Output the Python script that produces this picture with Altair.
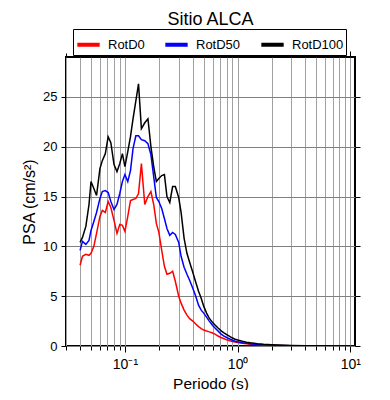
import altair as alt
import pandas as pd

periods = [0.040, 0.042, 0.045, 0.048, 0.050, 0.053, 0.056, 0.060, 0.063, 0.067,
           0.071, 0.075, 0.080, 0.085, 0.090, 0.095,
           0.100, 0.106, 0.112, 0.118, 0.125, 0.132, 0.140, 0.150, 0.160, 0.170,
           0.180, 0.190, 0.200, 0.212, 0.224, 0.236, 0.250, 0.265, 0.280, 0.300,
           0.315, 0.335, 0.355, 0.375, 0.400, 0.425, 0.450, 0.475, 0.500, 0.530,
           0.560, 0.600, 0.630, 0.670, 0.710, 0.750, 0.800, 0.850, 0.900, 0.950,
           1.0, 1.1, 1.2, 1.3, 1.5, 1.7, 2.0, 2.5, 3.0, 4.0, 5.0, 6.0, 7.5, 10.0]

rotd0 = [8.1, 9.0, 9.2, 9.1, 9.3, 10.0, 11.3, 13.0, 13.6, 13.4,
         14.5, 13.9, 12.6, 11.3, 12.2, 12.1,
         11.5, 13.0, 14.6, 14.7, 14.8, 15.3, 18.3, 14.2, 15.0, 15.5,
         14.2, 12.3, 11.4, 9.6, 8.0, 7.2, 7.3, 7.5, 6.5, 5.0,
         4.3, 3.6, 3.1, 2.75, 2.5, 2.2, 1.95, 1.75, 1.6, 1.5,
         1.42, 1.3, 1.2, 1.0, 0.85, 0.75, 0.62, 0.52, 0.45, 0.4,
         0.35, 0.28, 0.22, 0.18, 0.13, 0.1, 0.07, 0.04, 0.03, 0.02, 0.012, 0.01, 0.007, 0.005]

rotd50 = [9.6, 10.5, 10.2, 10.6, 11.6, 12.5, 13.4, 14.8, 15.5, 15.6,
          15.4, 14.5, 13.7, 14.2, 15.3, 16.5,
          17.2, 16.5, 17.6, 19.8, 21.1, 21.1, 20.7, 20.6, 20.3, 19.2,
          17.0, 14.9, 14.5, 13.8, 12.8, 11.8, 11.1, 11.4, 11.2, 10.4,
          9.0, 7.9, 7.2, 6.6, 5.8, 5.0, 4.1, 3.6, 3.3, 2.9,
          2.5, 2.05, 1.8, 1.5, 1.22, 1.02, 0.85, 0.7, 0.58, 0.48,
          0.42, 0.33, 0.27, 0.22, 0.16, 0.12, 0.08, 0.05, 0.035, 0.02, 0.015, 0.01, 0.008, 0.006]

rotd100 = [10.4, 10.9, 12.0, 14.2, 16.5, 15.8, 15.1, 17.8, 18.6, 19.3,
           21.0, 20.4, 18.2, 17.5, 18.3, 19.3,
           18.0, 19.5, 21.0, 22.8, 24.6, 26.3, 21.8, 22.4, 22.8, 20.0,
           18.0, 16.5, 16.8, 17.1, 17.2, 15.0, 14.4, 16.0, 16.0, 14.9,
           13.4, 10.8, 9.3, 8.4, 7.4, 6.4, 5.5, 4.8, 4.0, 3.3,
           2.8, 2.35, 2.1, 1.8, 1.55, 1.35, 1.15, 0.97, 0.8, 0.68,
           0.6, 0.47, 0.38, 0.32, 0.23, 0.17, 0.12, 0.075, 0.05, 0.03, 0.02, 0.015, 0.01, 0.008]

series_names = ["RotD0", "RotD50", "RotD100"]
series_colors = ["#ff0000", "#0000ff", "#000000"]

x_ticks = [0.03, 0.04, 0.05, 0.06, 0.07, 0.08, 0.09,
           0.1, 0.2, 0.3, 0.4, 0.5, 0.6, 0.7, 0.8, 0.9,
           1, 2, 3, 4, 5, 6, 7, 8, 9, 10]
y_ticks = [0, 5, 10, 15, 20, 25]

rows = []
for name, vals in zip(series_names, [rotd0, rotd50, rotd100]):
    for t, v in zip(periods, vals):
        rows.append({"Periodo": t, "PSA": v, "Serie": name})
df = pd.DataFrame(rows)

FONT = "Liberation Sans"
xscale = alt.Scale(type="log", domain=[0.03, 11], nice=False)
yscale = alt.Scale(domain=[0, 29], nice=False, zero=False)

major_test = "datum.value == 0.1 || datum.value == 1 || datum.value == 10"
label_expr = ("datum.value == 0.1 ? '10\u207b\u00b9' : (datum.value == 1 ? '10\u2070' : "
              "(datum.value == 10 ? '10\u00b9' : ''))")

lines = alt.Chart(df).mark_line(strokeWidth=1.5, clip=True).encode(
    x=alt.X("Periodo:Q", scale=xscale,
            axis=alt.Axis(values=x_ticks, labelExpr=label_expr, labelOverlap=False,
                          grid=True, gridColor="#a0a0a0", gridWidth=1, domain=False,
                          tickColor="black",
                          tickSize={"condition": {"test": major_test, "value": 6}, "value": 4},
                          labelFont=FONT, labelFontSize=14, labelColor="black", labelPadding=5,
                          title="Periodo (s)", titleFont=FONT, titleFontSize=15.5,
                          titleFontWeight="normal", titleColor="black", titlePadding=5)),
    y=alt.Y("PSA:Q", scale=yscale,
            axis=alt.Axis(values=y_ticks, grid=True, gridColor="#808080", gridWidth=1,
                          domain=False, tickColor="black", tickSize=5,
                          labelFont=FONT, labelFontSize=13, labelColor="black", labelPadding=4,
                          title="PSA (cm/s\u00b2)", titleFont=FONT, titleFontSize=16,
                          titleFontWeight="normal", titleColor="black", titlePadding=5)),
    color=alt.Color("Serie:N", scale=alt.Scale(domain=series_names, range=series_colors),
                    legend=alt.Legend(title=None, orient="none", legendX=7, legendY=-28,
                                      direction="horizontal", symbolType="stroke",
                                      symbolSize=500, symbolStrokeWidth=4,
                                      labelFont=FONT, labelFontSize=13, labelColor="black",
                                      labelOffset=6, columnPadding=12, padding=2,
                                      strokeColor="black", fillColor="white")),
)

frame_axes = alt.Chart(df).mark_line(opacity=0).encode(
    x=alt.X("Periodo:Q", scale=xscale,
            axis=alt.Axis(orient="top", values=x_ticks, labels=False, grid=False, domain=False,
                          tickColor="black",
                          tickSize={"condition": {"test": major_test, "value": 6}, "value": 4},
                          title=None)),
    y=alt.Y("PSA:Q", scale=yscale,
            axis=alt.Axis(orient="right", values=y_ticks, labels=False, grid=False,
                          domain=False, tickColor="black", tickSize=5, title=None)),
)

chart = alt.layer(lines, frame_axes).resolve_axis(x="independent", y="independent").properties(
    width=289, height=289,
    padding={"left": 58, "top": 49, "right": 20, "bottom": 44},
    autosize=alt.AutoSizeParams(type="none"),
    background="white",
    title=alt.Title("Sitio ALCA", font=FONT, fontSize=18, fontWeight="normal",
                    color="black", anchor="middle", offset=0),
).configure_view(stroke="black", strokeWidth=2)

chart.save("out.html", embed_options={"renderer": "svg", "actions": False})
